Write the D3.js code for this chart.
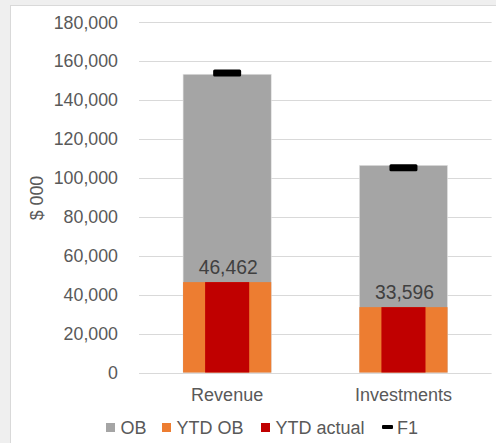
<!DOCTYPE html>
<html>
<head>
<meta charset="utf-8">
<script src="https://cdn.jsdelivr.net/npm/d3@7"></script>
<style>
  body { margin: 0; background: #efefef; }
  svg { display: block; font-family: "Liberation Sans", Arial, sans-serif; }
</style>
</head>
<body>
<script>
const categories = ["Revenue", "Investments"];
const obValues = [153300, 106500];
const ytdObValues = [46462, 33596];
const ytdActualValues = [46462, 33596];
const f1Values = [154000, 105200];
const yTicks = [0, 20000, 40000, 60000, 80000, 100000, 120000, 140000, 160000, 180000];
const legendItems = ["OB", "YTD OB", "YTD actual", "F1"];

function main() {
    const svg = d3.select("body").append("svg")
        .attr("width", 496)
        .attr("height", 443);

    // chart frame
    svg.append("rect")
        .attr("x", 10.5).attr("y", 5.5)
        .attr("width", 500).attr("height", 500)
        .attr("fill", "#ffffff")
        .attr("stroke", "#d9d9d9");

    const y = d3.scaleLinear().domain([0, 180000]).range([372.5, 22.3]);
    const x = d3.scaleBand().domain(categories).range([139, 491.6])
        .paddingInner(0.5).paddingOuter(0.25);

    const fmt = d3.format(",");
    const textColor = "#595959";

    const yAxis = svg.append("g").attr("transform", "translate(139,0)")
        .call(d3.axisLeft(y).tickValues(yTicks).tickFormat(fmt).tickSize(0).tickPadding(21));
    yAxis.select(".domain").remove();
    yAxis.selectAll("text").attr("fill", textColor).style("font-size", "17.8px")
        .attr("font-family", "Liberation Sans, Arial, sans-serif");

    svg.append("g").selectAll("line")
        .data(yTicks).enter().append("line")
        .attr("x1", 139).attr("x2", 491.6)
        .attr("y1", d => Math.round(y(d)) + 0.5).attr("y2", d => Math.round(y(d)) + 0.5)
        .attr("stroke", "#d9d9d9").attr("stroke-width", 1);

    svg.append("text")
        .attr("transform", "translate(43,198) rotate(-90)")
        .attr("text-anchor", "middle")
        .attr("fill", textColor).style("font-size", "17.8px")
        .text("$ 000");

    const bw = x.bandwidth();

    svg.append("g").selectAll("rect")
        .data(categories).enter().append("rect")
        .attr("x", d => x(d)).attr("width", bw)
        .attr("y", (d, i) => y(obValues[i]))
        .attr("height", (d, i) => y(0) - y(obValues[i]))
        .attr("fill", "#a5a5a5")
        .attr("stroke", "#e4e4e4").attr("stroke-width", 0.6);

    svg.append("g").selectAll("rect")
        .data(categories).enter().append("rect")
        .attr("x", d => x(d)).attr("width", bw)
        .attr("y", (d, i) => y(ytdObValues[i]))
        .attr("height", (d, i) => y(0) - y(ytdObValues[i]))
        .attr("fill", "#ed7d31");

    svg.append("g").selectAll("rect")
        .data(categories).enter().append("rect")
        .attr("x", d => x(d) + bw / 4).attr("width", bw / 2)
        .attr("y", (d, i) => y(ytdActualValues[i]))
        .attr("height", (d, i) => y(0) - y(ytdActualValues[i]))
        .attr("fill", "#c00000");

    svg.append("g").selectAll("rect")
        .data(categories).enter().append("rect")
        .attr("x", d => x(d) + bw / 2 - 14).attr("width", 28)
        .attr("y", (d, i) => y(f1Values[i]) - 3.5)
        .attr("height", 7).attr("rx", 1.5)
        .attr("fill", "#000000");

    svg.append("g").selectAll("text")
        .data(categories).enter().append("text")
        .attr("x", d => x(d) + bw / 2 + 1)
        .attr("y", (d, i) => y(ytdActualValues[i]) - 8.4)
        .attr("text-anchor", "middle")
        .attr("fill", "#404040").style("font-size", "19.3px")
        .text((d, i) => fmt(ytdActualValues[i]));

    svg.append("g").selectAll("text")
        .data(categories).enter().append("text")
        .attr("x", d => x(d) + bw / 2)
        .attr("y", 400.7)
        .attr("text-anchor", "middle")
        .attr("fill", textColor).style("font-size", "18px")
        .text(d => d);

    // legend
    const legendX = [106, 162, 261, 382];
    const legendColors = ["#a5a5a5", "#ed7d31", "#c00000", "#000000"];
    const lg = svg.append("g");
    legendItems.forEach((name, i) => {
        if (name === "F1") {
            lg.append("rect").attr("x", legendX[i]).attr("y", 425).attr("width", 11).attr("height", 4)
                .attr("rx", 1).attr("fill", legendColors[i]);
            lg.append("text").attr("x", legendX[i] + 15).attr("y", 434)
                .attr("fill", textColor).style("font-size", "18px").text(name);
        } else {
            lg.append("rect").attr("x", legendX[i]).attr("y", 423).attr("width", 9).attr("height", 9)
                .attr("fill", legendColors[i]);
            lg.append("text").attr("x", legendX[i] + 14.5).attr("y", 434)
                .attr("fill", textColor).style("font-size", "18px").text(name);
        }
    });
}
main();
</script>
</body>
</html>
